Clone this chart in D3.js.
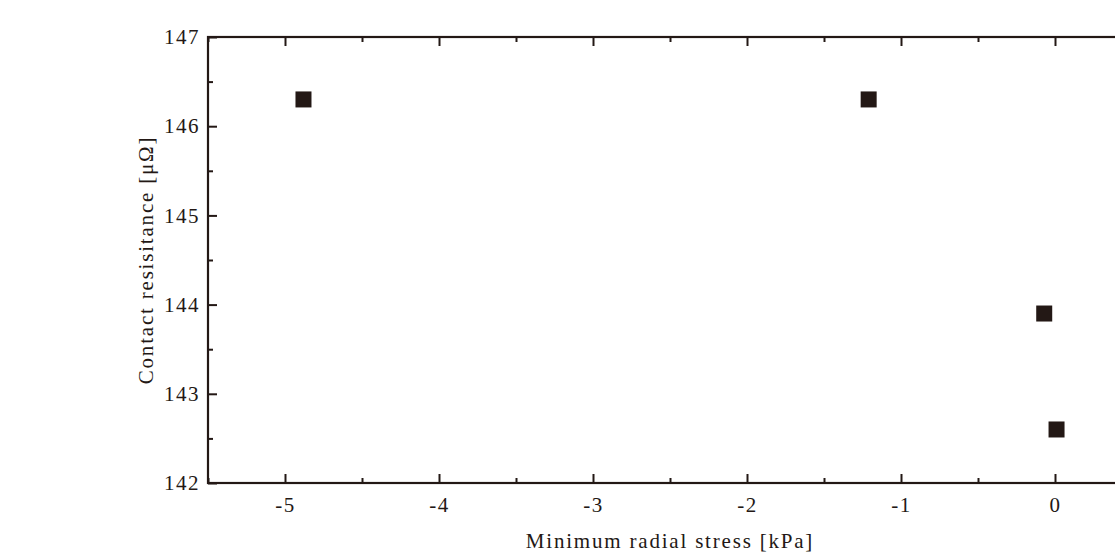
<!DOCTYPE html>
<html>
<head>
<meta charset="utf-8">
<script src="https://cdn.jsdelivr.net/npm/d3@7"></script>
<style>
  html, body { margin: 0; padding: 0; background: #fff; overflow: hidden; }
  text { font-family: "Liberation Serif", "DejaVu Serif", serif; fill: #231815; }
</style>
</head>
<body>
<div id="container"></div>
<script>
const WIDTH = 1115;
const HEIGHT = 552;
const LEFT = 208, TOP = 37, RIGHT_X = 1132, BOTTOM = 483;
const INK = "#231815";

// data
var stress = [-4.88, -1.21, -0.07, 0.01];
var resistance = [146.3, 146.3, 143.9, 142.6];
var xTicks = [-5, -4, -3, -2, -1, 0];
var yTicks = [142, 143, 144, 145, 146, 147];
var xMinor = [-5.5, -4.5, -3.5, -2.5, -1.5, -0.5, 0.5];
var yMinor = [142.5, 143.5, 144.5, 145.5, 146.5];

var translate = function (x, y) {
    return "translate(" + x + "," + y + ")";
};

// plain hyphen for negatives, like the original
var fmt = function (d) { return String(d); };

var createChart = function () {
    var svg = d3.select("#container")
        .append("svg")
        .attr("width", WIDTH)
        .attr("height", HEIGHT);

    var xScale = d3.scaleLinear().domain([-5.5, 0.5]).range([LEFT, RIGHT_X]);
    var yScale = d3.scaleLinear().domain([142, 147]).range([BOTTOM, TOP]);

    function styleAxis(g) {
        g.select(".domain").remove();
        g.selectAll("line").attr("stroke", INK).attr("stroke-width", 2);
        g.selectAll("text").attr("font-size", 21).attr("letter-spacing", 1.5).attr("fill", INK);
    }

    // bottom axis, ticks pointing inward
    svg.append("g")
        .attr("transform", translate(0, BOTTOM))
        .call(d3.axisBottom(xScale).tickValues(xTicks).tickSizeInner(-9).tickSizeOuter(0)
            .tickPadding(14).tickFormat(fmt))
        .call(styleAxis);
    svg.append("g")
        .attr("transform", translate(0, BOTTOM))
        .call(d3.axisBottom(xScale).tickValues(xMinor).tickSizeInner(-5).tickSizeOuter(0).tickFormat(""))
        .call(styleAxis);

    // top axis
    svg.append("g")
        .attr("transform", translate(0, TOP))
        .call(d3.axisTop(xScale).tickValues(xTicks).tickSizeInner(-9).tickSizeOuter(0).tickFormat(""))
        .call(styleAxis);
    svg.append("g")
        .attr("transform", translate(0, TOP))
        .call(d3.axisTop(xScale).tickValues(xMinor).tickSizeInner(-5).tickSizeOuter(0).tickFormat(""))
        .call(styleAxis);

    // left axis
    svg.append("g")
        .attr("transform", translate(LEFT, 0))
        .call(d3.axisLeft(yScale).tickValues(yTicks).tickSizeInner(-9).tickSizeOuter(0)
            .tickPadding(8).tickFormat(fmt))
        .call(styleAxis);
    svg.append("g")
        .attr("transform", translate(LEFT, 0))
        .call(d3.axisLeft(yScale).tickValues(yMinor).tickSizeInner(-5).tickSizeOuter(0).tickFormat(""))
        .call(styleAxis);

    // right axis (falls just past the window edge)
    svg.append("g")
        .attr("transform", translate(RIGHT_X, 0))
        .call(d3.axisRight(yScale).tickValues(yTicks).tickSizeInner(-9).tickSizeOuter(0).tickFormat(""))
        .call(styleAxis);

    // frame
    svg.append("rect")
        .attr("x", LEFT).attr("y", TOP)
        .attr("width", RIGHT_X - LEFT).attr("height", BOTTOM - TOP)
        .attr("fill", "none").attr("stroke", INK).attr("stroke-width", 2.2);

    // points
    var data = stress.map(function (s, i) { return {x: s, y: resistance[i]}; });
    svg.selectAll("rect.pt").data(data)
        .enter()
        .append("rect")
        .attr("class", "pt")
        .attr("x", function (d) { return xScale(d.x) - 8; })
        .attr("y", function (d) { return yScale(d.y) - 8; })
        .attr("width", 16)
        .attr("height", 16)
        .attr("fill", INK);

    // axis titles
    svg.append("text")
        .attr("x", (LEFT + RIGHT_X) / 2)
        .attr("y", 548)
        .attr("text-anchor", "middle")
        .attr("font-size", 21)
        .attr("letter-spacing", 1.8)
        .text("Minimum radial stress [kPa]");

    svg.append("text")
        .attr("transform", translate(153, (TOP + BOTTOM) / 2) + " rotate(-90)")
        .attr("text-anchor", "middle")
        .attr("font-size", 21)
        .attr("letter-spacing", 1.8)
        .text("Contact resisitance [μΩ]");
};

window.onload = createChart;
</script>
</body>
</html>
